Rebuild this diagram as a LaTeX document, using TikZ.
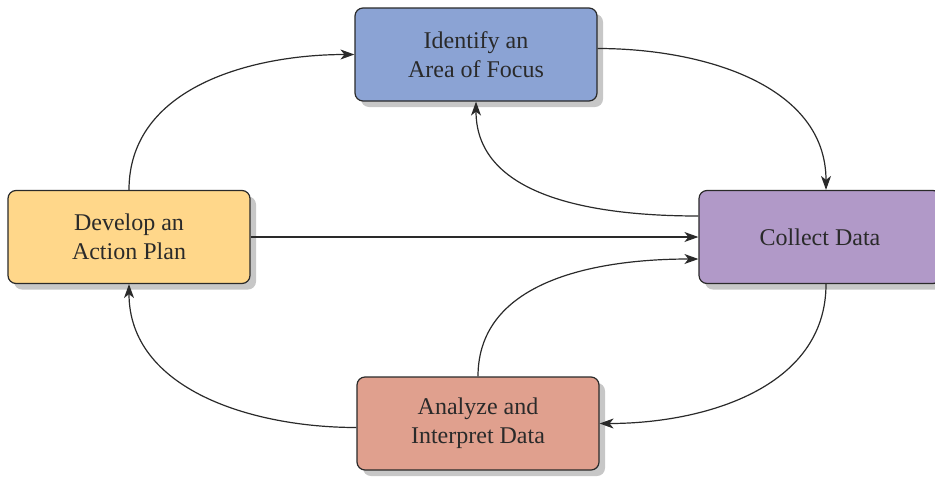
\documentclass[tikz,border=0pt]{standalone}
\usepackage{fontspec}
\setmainfont{Liberation Serif}
\usepackage{tikz}
\usetikzlibrary{arrows.meta, shadows, positioning}

\definecolor{focusblue}{HTML}{8BA3D4}
\definecolor{planyellow}{HTML}{FFD78A}
\definecolor{datapurple}{HTML}{B199C8}
\definecolor{analyzered}{HTML}{E0A08E}
\definecolor{boxline}{HTML}{2A2A2A}

\tikzset{
    stagebox/.style={draw=boxline, line width=0.6pt, rounded corners=4pt,
        minimum width=121pt, minimum height=46.5pt, align=center,
        text=boxline, font=\fontsize{12}{14.5}\selectfont,
        drop shadow={fill=black!22, opacity=1, shadow xshift=3pt, shadow yshift=-3pt}},
    flow/.style={draw=boxline, line width=0.6pt, -{Stealth[length=7pt, width=5pt, inset=2pt]}}
}

\begin{document}
\begin{tikzpicture}[x=0.5pt, y=-0.5pt]
                    \useasboundingbox (0,0) rectangle (935,477);

                    \node[stagebox, fill=focusblue] (focus) at (476,54.5) {Identify an\\Area of Focus};
                    \node[stagebox, fill=planyellow] (plan) at (129,237) {Develop an\\Action Plan};
                    \node[stagebox, fill=datapurple] (collect) at (820,237) {Collect Data};
                    \node[stagebox, fill=analyzered] (analyze) at (478,423.5) {Analyze and\\Interpret Data};

                    \draw[flow] (plan.north) to[out=90, in=180] (focus.west);
                    \draw[flow] ([yshift=3pt]focus.east) to[out=0, in=90] ([xshift=3pt]collect.north);
                    \draw[flow] ([yshift=10.5pt]collect.west) to[out=180, in=-90] (focus.south);
                    \draw[flow] (plan.east) -- (collect.west);
                    \draw[flow] (analyze.north) to[out=90, in=180] ([yshift=-11pt]collect.west);
                    \draw[flow] ([xshift=3pt]collect.south) to[out=-90, in=0] (analyze.east);
                    \draw[flow] ([yshift=-2pt]analyze.west) to[out=180, in=-90] (plan.south);
                \end{tikzpicture}
\end{document}
